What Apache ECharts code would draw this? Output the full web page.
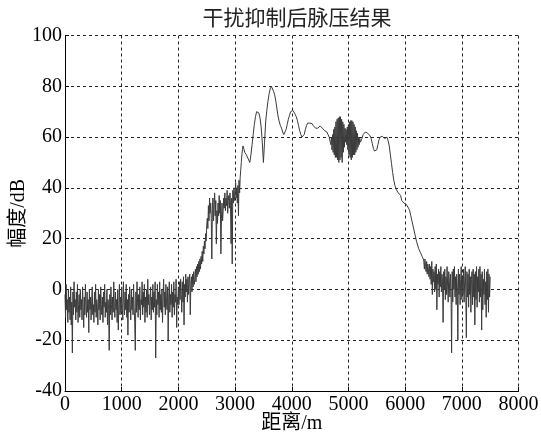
<!DOCTYPE html>
<html>
<head>
<meta charset="utf-8">
<script src="https://cdn.jsdelivr.net/npm/echarts@6/dist/echarts.min.js"></script>
<style>
html,body{margin:0;padding:0;background:#fff;}
#chart{width:541px;height:435px;}
</style>
</head>
<body>
<div id="chart"></div>
<script>
// ---- Data ----
const titleText = '干扰抑制后脉压结果';
const xAxisName = '距离/m';
const yAxisName = '幅度/dB';
const xTicks = [0, 1000, 2000, 3000, 4000, 5000, 6000, 7000, 8000];
const yTicks = [-40, -20, 0, 20, 40, 60, 80, 100];

// Each segment: start distance (m), sample spacing (m), amplitudes (dB)
const ampNearStart = 0, ampNearStep = 10;
const ampNear = [
  -2, -11, 2, -8, -4, -13, 0, -9, -3, -12,
  1, -14, -5, -25, -1, -10, 3, -7, -4, -12,
  -1, -9, 2, -13, -6, -2, -11, 0, -8, -4,
  -12, 1, -7, -15, -3, -10, 2, -6, -11, -1,
  -9, -4, -17, 0, -8, -3, -12, -5, 1, -10,
  -6, -13, -1, -9, 2, -11, -4, -7, -14, 0,
  -8, -2, -12, 1, -6, -10, -3, -13, -1, -7,
  2, -11, -5, -9, 0, -14, -4, -8, -24, -2,
  -10, 1, -6, -12, -3, -9, 3, -7, -11, -1,
  -8, -4, -13, 0, -16, -6, 2, -10, -3, -9,
  1, -7, -12, 3, -5, -10, -1, -8, 2, -11,
  -4, -18, -2, -9, 1, -6, -12, 0, -8, -3,
  -10, 2, -7, -13, -24, -1, -9, 3, -5, -11,
  -2, -8, 1, -12, -4, -6, 3, -10, -1, -7,
  2, -13, -3, -9, 0, -11, 4, -6, -2, -10,
  -5, 1, -12, -3, -8, 2, -9, -1, -7, 3,
  -27, -4, -10, 2, -6, -1, -11, 3, -8, -2,
  -9, 0, -13, -3, 4, -7, -1, -10, 2, -5,
  -8, 1, -20, -3, 3, -9, -2, -6, 2, -11,
  -1, -7, 3, -10, -2, -5, 4, -15, -3, -6,
  1
];
const ampRiseStart = 2010, ampRiseStep = 10;
const ampRise = [
  -6, 3, -4, 4, -2, -9, 3, -5, 5, -14,
  2, -3, 6, -1, 4, -5, 5, -2, 3, 6,
  -10, 2, 5, -1, 6, 1, 7, 2, 4, 8,
  3, 9, 5, 10, 6, 11, 7, 12, 8, 13,
  10, 15, 11, 17, 14, 19, 16, 22, 19, 25,
  28, 24, 33, 27, 36, 30, 34, 28, 12, 32,
  36, 27, 33, 38, 29, 35, 18, 31, 26, 34,
  29, 37, 30, 35, 14, 28, 34, 27, 31, 36,
  32, 38, 31, 36, 33, 39, 30, 35, 37, 32,
  38, 33, 18, 36, 10, 39, 34, 40, 35, 38,
  42, 36, 40, 34, 41, 29, 43, 38, 44, 47,
  50, 53, 55, 56.5, 56, 55, 54, 53.5
];
const ampPeakStart = 3200, ampPeakStep = 20;
const ampPeak = [
  53, 52.5, 51, 50, 53, 57, 61, 65, 68, 70,
  70.5, 69.5, 67.5, 64, 58, 50, 58, 66, 70.5, 74,
  77, 79, 80, 79.5, 78, 76.5, 74, 71, 68, 66,
  64.5, 63.5, 62, 61, 61.5, 63, 65, 67, 68.5, 70,
  70.5, 70.5, 70, 69, 68, 66.5, 64.5, 62.5, 61, 60,
  59.5, 61, 63, 64.5, 65.5, 65.8, 65.5, 65, 65.3, 64.5,
  64, 63.5, 63.2, 63.5, 64, 64.4, 64, 63.5, 63, 62.5,
  62.7, 62, 61, 60, 58
];
const ampDenseStart = 4690, ampDenseStep = 10;
const ampDense = [
  57, 60, 55, 61, 54, 63, 53, 64, 52, 66,
  52, 67, 51, 67.5, 50, 68, 51, 68, 52, 67,
  50, 66, 54, 65, 56, 63.5, 58, 63, 57, 64,
  55, 65, 53, 66, 52, 66.5, 51, 66.5, 52, 66,
  53, 65, 53, 64, 54, 62.5, 55, 61.5, 56, 60,
  57, 59.5, 58, 58.5
];
const ampFallStart = 5240, ampFallStep = 20;
const ampFall = [
  59.5, 61, 61.5, 62, 61.8, 61.5, 61, 60.5, 59.5, 57.5,
  55.5, 54.5, 54, 55, 57, 59, 60, 60.5, 60.3, 59.8,
  59.4, 59.8, 60, 58.5, 56.5, 53, 49.5, 46, 43, 41,
  39.5, 38.8, 38, 37.5, 37, 35, 35.5, 34, 33.8, 33.5,
  33, 32, 31, 29, 27, 25, 23, 21, 19, 17.5,
  16, 15, 14, 13, 12
];
const ampFarStart = 6330, ampFarStep = 10;
const ampFar = [
  11, 8, 12, 9, 7, 11, 6, 10, 8, 5,
  10, 4, 9, 2, 11, -2, 8, 3, 7, -1,
  9, 0, 10, -8, 6, 2, 8, -3, 7, 1,
  9, -1, 6, 3, -13, 7, 0, 8, -4, 5,
  -2, 9, 1, -5, 7, 3, -3, 6, -1, -25,
  7, -5, 8, 0, 9, -3, 5, -6, 6, 1,
  -20, 8, -2, 6, -6, 4, 9, -4, 5, -2,
  8, -5, 3, 9, -1, -19, 7, -3, 6, -7,
  8, -2, 5, -9, 4, 7, -6, 8, -3, 6,
  -14, 7, -4, 9, -7, 5, -1, 8, -5, 9,
  -3, 6, -16, 7, -8, 4, -2, 8, -6, 3,
  -11, 7, -4, 8, -9, 6, -3, 5
];

// ---- Build series data ----
const segments = [
  [ampNearStart, ampNearStep, ampNear],
  [ampRiseStart, ampRiseStep, ampRise],
  [ampPeakStart, ampPeakStep, ampPeak],
  [ampDenseStart, ampDenseStep, ampDense],
  [ampFallStart, ampFallStep, ampFall],
  [ampFarStart, ampFarStep, ampFar]
];
const lineData = [];
segments.forEach(([start, step, arr]) => {
  arr.forEach((v, i) => lineData.push([start + i * step, v]));
});

const FONT = "'Liberation Serif', 'Times New Roman', 'Noto Sans CJK SC', serif";

const chart = echarts.init(document.getElementById('chart'), null, {renderer: 'canvas'});
chart.setOption({
  animation: false,
  backgroundColor: '#fff',
  title: {
    text: titleText,
    left: 292,
    top: 4,
    textAlign: 'center',
    textStyle: {fontFamily: FONT, fontSize: 21, fontWeight: 'normal', color: '#222'}
  },
  grid: {left: 65, right: 22.5, top: 35.5, bottom: 44, containLabel: false, outerBoundsMode: 'none'},
  xAxis: {
    type: 'value',
    min: xTicks[0],
    max: xTicks[xTicks.length - 1],
    interval: xTicks[1] - xTicks[0],
    name: xAxisName,
    nameLocation: 'middle',
    nameGap: 23,
    nameMoveOverlap: false,
    nameTextStyle: {fontFamily: FONT, fontSize: 20, color: '#000'},
    axisLine: {show: true, onZero: false, lineStyle: {color: '#000', width: 1}},
    axisTick: {show: true, inside: true, length: 4, lineStyle: {color: '#000'}},
    axisLabel: {fontFamily: FONT, fontSize: 20, color: '#000', margin: 4, formatter: v => String(v)},
    splitLine: {show: true, lineStyle: {color: '#222', width: 1, type: [3, 3]}}
  },
  yAxis: {
    type: 'value',
    min: yTicks[0],
    max: yTicks[yTicks.length - 1],
    interval: yTicks[1] - yTicks[0],
    name: yAxisName,
    nameLocation: 'middle',
    nameGap: 36,
    nameMoveOverlap: false,
    nameTextStyle: {fontFamily: FONT, fontSize: 20, color: '#000'},
    axisLine: {show: true, onZero: false, lineStyle: {color: '#000', width: 1}},
    axisTick: {show: true, inside: true, length: 4, lineStyle: {color: '#000'}},
    axisLabel: {fontFamily: FONT, fontSize: 20, color: '#000', margin: 3, formatter: v => String(v)},
    splitLine: {show: true, lineStyle: {color: '#222', width: 1, type: [3, 3]}}
  },
  series: [{
    type: 'line',
    data: lineData,
    showSymbol: false,
    symbol: 'none',
    sampling: null,
    lineStyle: {color: '#3a3a3a', width: 1},
    silent: true
  }]
});
</script>
</body>
</html>
